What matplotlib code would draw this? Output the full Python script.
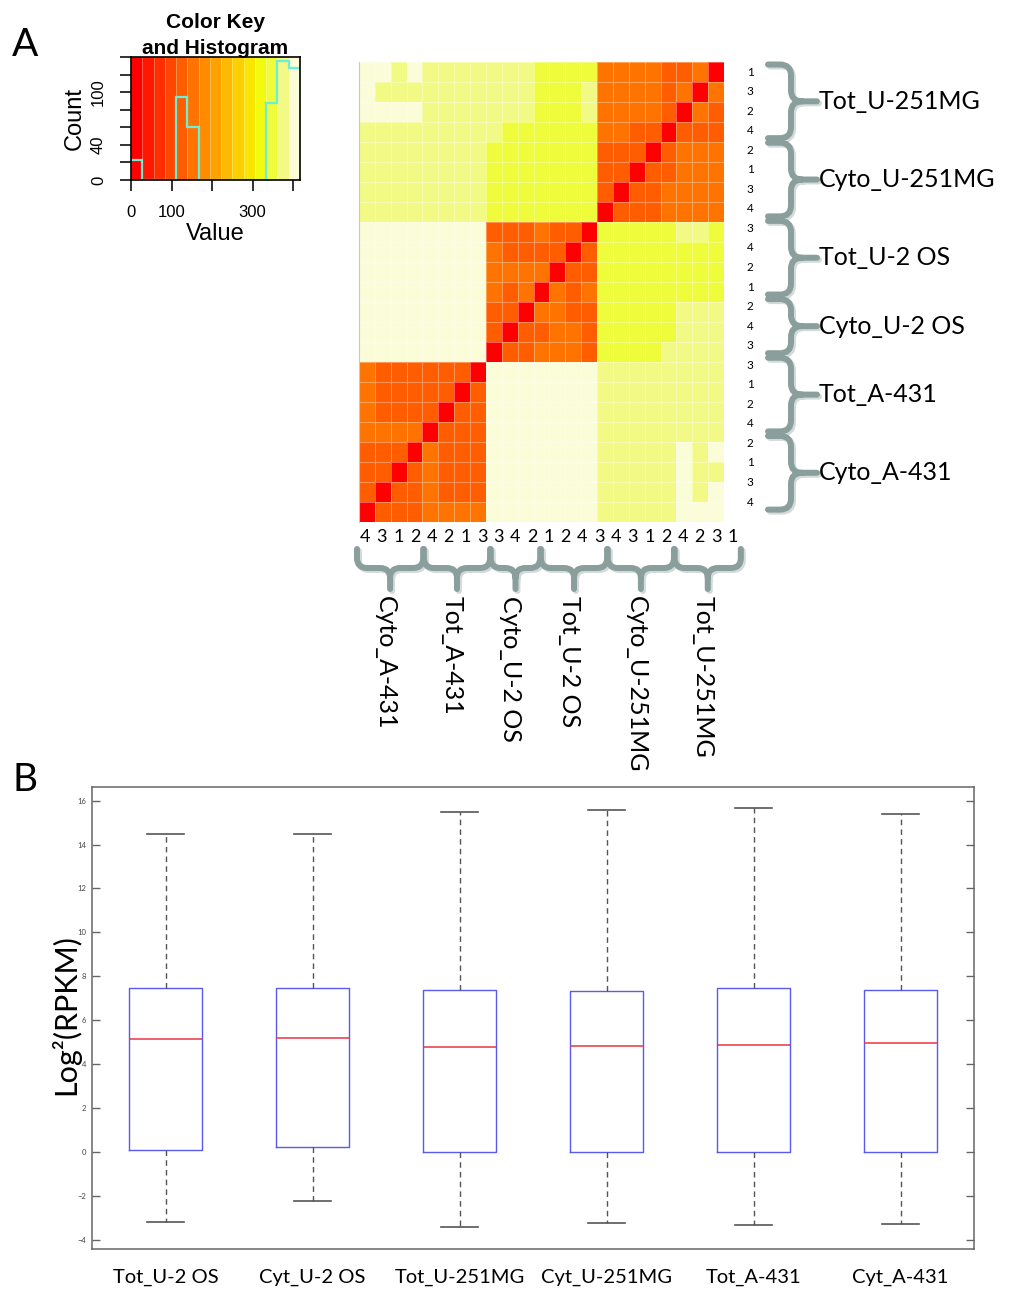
import numpy as np
import matplotlib
matplotlib.use('Agg')
import matplotlib.pyplot as plt
from matplotlib.colors import ListedColormap, BoundaryNorm
from matplotlib.path import Path
from matplotlib.patches import PathPatch

plt.rcParams['font.family'] = ['Lato', 'DejaVu Sans']

W, H = 1016, 1300

# ---------------- panel A data ----------------
row_groups = ['Tot_U-251MG', 'Cyto_U-251MG', 'Tot_U-2 OS', 'Cyto_U-2 OS', 'Tot_A-431', 'Cyto_A-431']
row_group_sizes = [4, 4, 4, 3, 4, 4]
row_reps = ['1', '3', '2', '4', '2', '1', '3', '4', '3', '4', '2', '1',
            '2', '4', '3', '3', '1', '2', '4', '2', '1', '3', '4']

col_groups = ['Cyto_A-431', 'Tot_A-431', 'Cyto_U-2 OS', 'Tot_U-2 OS', 'Cyto_U-251MG', 'Tot_U-251MG']
col_group_sizes = [4, 4, 3, 4, 4, 4]
col_reps = ['4', '3', '1', '2', '4', '2', '1', '3', '3', '4', '2', '1',
            '2', '4', '3', '4', '3', '1', '2', '4', '2', '3', '1']

# heatmap cells, one char per cell = colour-key bin
# '0' red, '4'/'5' orange bins, 'c' yellow, 'd' light yellow, 'e' pale
dist_rows = [
    'eede dddd ddd cccc 5555 4450',
    'eddd dddd ddd cccd 5555 4505',
    'eeee dddd ddd cccd 5555 4054',
    'dddd dddd dcc cccc 5544 0444',
    'dddd dddd ccc cccc 4440 4555',
    'dddd dddd ccc cccc 4404 4555',
    'dddd dddd ccc cccc 4044 5555',
    'dddd dddd ccc cccc 0444 5555',
    'eeee eeee 444 5440 cccc cddc',
    'eeee eeee 544 4404 cccc cccc',
    'eeee eeee 555 5044 cccc cccc',
    'eeee eeee 545 0545 cccc cccc',
    'eeee eeee 440 5544 cccc cddd',
    'eeee eeee 404 4554 cccc cddd',
    'eeee eeee 044 5554 cccc dddd',
    '5444 4440 eee eeee dddd dddd',
    '5444 4404 eee eeee dddd dddd',
    '5444 4044 eee eeee dddd dddd',
    '5555 0444 eee eeee dddd dddd',
    '4440 5444 eee eeee dddd dede',
    '4404 5444 eee eeee dddd dedd',
    '4044 5444 eee eeee dddd dede',
    '0444 5555 eee eeee dddd deee',
]
bin_value = {'0': 14, '4': 125, '5': 153, 'c': 347, 'd': 375, 'e': 403}

# colour key: 15 bins from 0 to ~417, histogram counts
key_max = 417
hist_counts = [23, 0, 0, 0, 94, 60, 0, 0, 0, 0, 0, 0, 88, 136, 128]
key_colors = ['#FF0000', '#FF1700', '#FF2E00', '#FF4600', '#FF5D00', '#FF7400',
              '#FF8B00', '#FFA200', '#FFB900', '#FCD000', '#F8E600', '#F2FA10',
              '#EEFC3C', '#F3F985', '#FAFDD8']

# ---------------- panel B data ----------------
box_labels = ['Tot_U-2 OS', 'Cyt_U-2 OS', 'Tot_U-251MG', 'Cyt_U-251MG', 'Tot_A-431', 'Cyt_A-431']
whisk_hi = [14.48, 14.48, 15.48, 15.57, 15.68, 15.37]
q3 = [7.47, 7.47, 7.39, 7.33, 7.45, 7.36]
med = [5.14, 5.18, 4.78, 4.81, 4.89, 4.95]
q1 = [0.08, 0.24, 0.02, 0.02, 0.02, 0.02]
whisk_lo = [-3.20, -2.22, -3.44, -3.23, -3.34, -3.26]


def box(x0, y0, x1, y1):
    # pixel box (top-left origin) -> figure fraction rect
    return [x0 / W, 1 - y1 / H, (x1 - x0) / W, (y1 - y0) / H]


fig = plt.figure(figsize=(W / 100, H / 100), dpi=100)

# ---------------- colour key ----------------
breaks = np.linspace(0, key_max, len(key_colors) + 1)
cmap = ListedColormap(key_colors)
norm = BoundaryNorm(breaks, cmap.N)

ax_key = fig.add_axes(box(131, 57, 300, 180))
ax_key.pcolormesh(breaks, [0, 140], [(breaks[:-1] + breaks[1:]) / 2], cmap=cmap, norm=norm,
                  edgecolors=(1, 1, 1, 0.3), linewidth=0.6)
ax_key.stairs(hist_counts, breaks, baseline=None, color='#6CEED8', lw=1.6)
ax_key.set_xlim(0, key_max)
ax_key.set_ylim(0, 140)
ax_key.set_xticks([0, 100, 200, 300, 400])
ax_key.set_xticklabels(['0', '100', '', '300', ''], family='Liberation Sans', fontsize=12)
ax_key.set_yticks(np.arange(0, 141, 20))
ax_key.set_yticklabels(['0', '', '40', '', '', '100', '', ''], family='Liberation Sans',
                       fontsize=12, rotation=90, va='center')
ax_key.tick_params(length=8, width=1.3, pad=10, color='#222')
for s in ax_key.spines.values():
    s.set_linewidth(1.2)
ax_key.text(-0.33, 0.5, 'Count', rotation=90, ha='center', va='center', fontsize=17,
            family='Liberation Sans')
ax_key.texts[-1].set_transform(ax_key.transAxes)
ax_key.text(0.5, -0.44, 'Value', ha='center', va='center', fontsize=17,
            family='Liberation Sans', transform=ax_key.transAxes)

# ---------------- heatmap ----------------
values = np.array([[bin_value[ch] for ch in r.replace(' ', '')] for r in dist_rows])
ax_hm = fig.add_axes(box(359, 62, 724, 522))
ax_hm.pcolormesh(np.arange(values.shape[1] + 1), np.arange(values.shape[0] + 1), values,
                 cmap=cmap, norm=norm, edgecolors=(1, 1, 1, 0.35), linewidth=0.6)
ax_hm.set_xlim(0, values.shape[1])
ax_hm.set_ylim(values.shape[0], 0)
ax_hm.set_xticks([])
ax_hm.set_yticks([])
for k, s in ax_hm.spines.items():
    s.set_visible(k == 'left')
ax_hm.spines['left'].set_color('#C8C8C8')

# ---------------- boxplot ----------------
ax_b = fig.add_axes(box(92, 787, 974, 1249))
stats = [dict(med=m, q1=a, q3=b, whislo=lo, whishi=hi, label=lab)
         for lab, lo, a, m, b, hi in zip(box_labels, whisk_lo, q1, med, q3, whisk_hi)]
ax_b.bxp(stats, positions=np.arange(1, len(stats) + 1), widths=0.5, showfliers=False,
         boxprops=dict(color='#5A5AEE', lw=1.0),
         medianprops=dict(color='#EE3344', lw=1.1),
         whiskerprops=dict(color='#555555', lw=1.0, linestyle=(0, (4, 3))),
         capprops=dict(color='#555555', lw=1.2))
ax_b.set_xlim(0.5, 6.5)
ax_b.set_ylim(-4.42, 16.62)
ax_b.set_yticks(np.arange(-4, 17, 2))
ax_b.tick_params(axis='y', direction='in', length=6, width=1, color='#666666',
                 labelsize=5.5, labelcolor='#444444', right=True, pad=4)
ax_b.tick_params(axis='x', length=0, labelsize=14.5, pad=14)
for s in ax_b.spines.values():
    s.set_color('#666666')
    s.set_linewidth(1.1)

# ---------------- overlay: labels and braces ----------------
ov = fig.add_axes([0, 0, 1, 1])
ov.set_xlim(0, W)
ov.set_ylim(H, 0)
ov.axis('off')
ov.set_zorder(5)

brace_col = '#8A9E9C'
shadow_col = '#D3DADA'


def draw_path(verts, codes):
    for dx, col in ((2, shadow_col), (0, brace_col)):
        p = Path([(x + dx, y + dx) for x, y in verts], codes)
        ov.add_patch(PathPatch(p, fill=False, edgecolor=col, lw=4.3, capstyle='round',
                               joinstyle='round'))


M, L, C = Path.MOVETO, Path.LINETO, Path.CURVE3


def right_brace(y0, y1, x0=768, x1=791, x2=817, r=11):
    ym = (y0 + y1) / 2
    verts = [(x0, y0), (x1 - r, y0), (x1, y0), (x1, y0 + r), (x1, ym - r), (x1, ym), (x1 + r, ym), (x2, ym),
             (x1 + r, ym), (x1, ym), (x1, ym + r), (x1, y1 - r), (x1, y1), (x1 - r, y1), (x0, y1)]
    codes = [M, L, C, C, L, C, C, L, M, C, C, L, C, C, L]
    draw_path(verts, codes)


def bottom_brace(x0, x1, y0=549, y1=568, y2=589, r=10):
    xm = (x0 + x1) / 2
    verts = [(x0, y0), (x0, y1 - r), (x0, y1), (x0 + r, y1), (xm - r, y1), (xm, y1), (xm, y1 + r), (xm, y2),
             (xm, y1 + r), (xm, y1), (xm + r, y1), (x1 - r, y1), (x1, y1), (x1, y1 - r), (x1, y0)]
    codes = [M, L, C, C, L, C, C, L, M, C, C, L, C, C, L]
    draw_path(verts, codes)


# right side: replicate numbers, braces, group names
row_y = 72 + 19.55 * np.arange(len(row_reps))
for y, t in zip(row_y, row_reps):
    ov.text(750, y, t, ha='center', va='center', fontsize=8.5)
start = 0
for name, n in zip(row_groups, row_group_sizes):
    y0, y1 = row_y[start] - 7.5, row_y[start + n - 1] + 7.5
    right_brace(y0, y1)
    ov.text(819, (y0 + y1) / 2, name, ha='left', va='center', fontsize=18)
    start += n

# bottom: replicate numbers, braces, group names
col_x = 365 + 16.72 * np.arange(len(col_reps))
for x, t in zip(col_x, col_reps):
    ov.text(x, 537, t, ha='center', va='center', fontsize=13)
start = 0
for name, n in zip(col_groups, col_group_sizes):
    x0, x1 = col_x[start] - 8, col_x[start + n - 1] + 8
    bottom_brace(x0, x1)
    ov.text((x0 + x1) / 2 - 5, 596, name, rotation=270, ha='center', va='top', fontsize=18)
    start += n

# titles and panel letters
ov.text(215, 22, 'Color Key', ha='center', va='center', fontsize=15, fontweight='bold',
        family='Liberation Sans')
ov.text(215, 48, 'and Histogram', ha='center', va='center', fontsize=15, fontweight='bold',
        family='Liberation Sans')
ov.text(25, 45, 'A', ha='center', va='center', fontsize=28)
ov.text(25, 780, 'B', ha='center', va='center', fontsize=28)
ov.text(65, 1015, 'Log²(RPKM)', rotation=90, ha='center', va='center', fontsize=22)

fig.savefig('out.png', dpi=100)
